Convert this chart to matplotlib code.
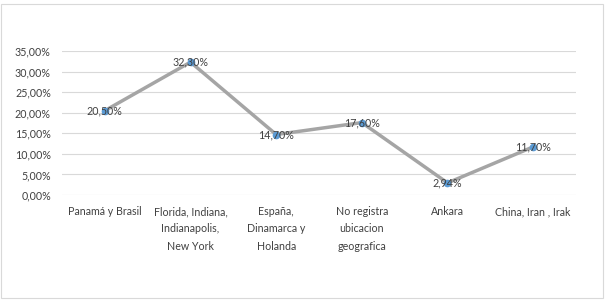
import matplotlib.pyplot as plt
from matplotlib.patches import Rectangle
from matplotlib.ticker import FuncFormatter

categories = ["Panamá y Brasil", "Florida, Indiana,\nIndianapolis,\nNew York",
              "España,\nDinamarca y\nHolanda", "No registra\nubicacion\ngeografica",
              "Ankara", "China, Iran , Irak"]
values = [20.50, 32.30, 14.70, 17.60, 2.94, 11.70]
labels = ["20,50%", "32,30%", "14,70%", "17,60%", "2,94%", "11,70%"]
yticks = [0, 5, 10, 15, 20, 25, 30, 35]

plt.rcParams['font.family'] = ['Lato', 'DejaVu Sans']
fig = plt.figure(figsize=(6.05, 3.01), dpi=100)
W, H = 605, 301
ax = fig.add_axes([62 / W, 1 - 195 / H, (576 - 62) / W, (195 - 51) / H])

fs = 7.7
x = list(range(len(categories)))
ax.plot(x, values, color='#A5A5A5', lw=2.5, zorder=2, solid_capstyle='round')
ax.plot(x, values, 'o', color='#5B9BD5', ms=4.5, zorder=3)
for xi, v, l in zip(x, values, labels):
    ax.text(xi, v, l, ha='center', va='center', fontsize=fs, color='#404040', zorder=4)

ax.set_xlim(-0.5, len(categories) - 0.5)
ax.set_ylim(0, 35)
ax.set_yticks(yticks)
ax.yaxis.set_major_formatter(FuncFormatter(lambda v, p: f"{v:.2f}%".replace('.', ',')))
ax.set_xticks(x)
ax.set_xticklabels(categories, fontsize=fs, color='#404040', linespacing=1.7, va='top')
ax.tick_params(axis='y', labelsize=fs, colors='#404040', length=0, pad=8)
ax.tick_params(axis='x', length=0, pad=8)
ax.grid(axis='y', color='#D9D9D9', lw=0.8)
ax.set_axisbelow(True)
for s in ax.spines.values():
    s.set_visible(False)

fig.patches.append(Rectangle((1 / W, 3 / H), 602 / W, 294 / H, transform=fig.transFigure,
                             fill=False, edgecolor='#D9D9D9', lw=0.8))
fig.savefig('out.png', dpi=100)
